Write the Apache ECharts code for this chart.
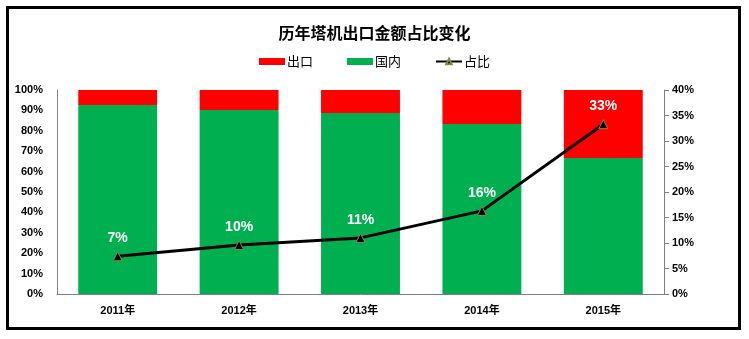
<!DOCTYPE html>
<html><head><meta charset="utf-8">
<script src="https://cdn.jsdelivr.net/npm/echarts@6/dist/echarts.min.js"></script>
<style>html,body{margin:0;padding:0;background:#fff}#c{width:749px;height:339px}</style>
</head><body><div id="c"></div>
<script>
const categories = ['2011年','2012年','2013年','2014年','2015年'];
const exportShare = [7.4, 9.8, 11.3, 16.7, 33.3];
const domestic = [92.6, 90.2, 88.7, 83.3, 66.7];
const ratio = [7.4, 9.6, 11.0, 16.3, 33.3];
const ratioLabels = ['7%','10%','11%','16%','33%'];
const font = '"Liberation Sans", "Noto Sans CJK SC", sans-serif';
const chart = echarts.init(document.getElementById('c'));
chart.setOption({
  animation: false,
  title: { text: '历年塔机出口金额占比变化', left: 'center', top: 20,
    textStyle: { fontFamily: '"Noto Sans CJK SC", sans-serif', fontSize: 16, fontWeight: 'bold', color: '#000' } },
  legend: { top: 50, left: 'center', itemGap: 34, itemWidth: 26, itemHeight: 7,
    textStyle: { fontFamily: '"Noto Sans CJK SC", sans-serif', fontSize: 13, color: '#000', padding: [0,0,0,-3] },
    data: [{name:'出口', icon:'rect'}, {name:'国内', icon:'rect'}, {name:'占比'}] },
  grid: { left: 57, right: 85, top: 90, bottom: 45 },
  graphic: [{ type: 'rect', shape: { x: 7.5, y: 7.5, width: 732, height: 321 },
    style: { fill: 'none', stroke: '#000', lineWidth: 3 }, silent: true }],
  xAxis: { type: 'category', data: categories,
    axisLine: { lineStyle: { color: '#808080' } }, axisTick: { show: false },
    axisLabel: { fontFamily: font, fontWeight: 'bold', fontSize: 11, color: '#000', margin: 11 } },
  yAxis: [
    { type: 'value', min: 0, max: 100, interval: 10, splitLine: { show: false },
      axisLine: { show: true, lineStyle: { color: '#808080' } }, axisTick: { show: false },
      axisLabel: { formatter: '{value}%', fontFamily: font, fontWeight: 'bold', fontSize: 11, color: '#000', margin: 14 } },
    { type: 'value', min: 0, max: 40, interval: 5, splitLine: { show: false },
      axisLine: { show: true, lineStyle: { color: '#808080' } }, axisTick: { show: true, length: 5, lineStyle: { color: '#808080' } },
      axisLabel: { formatter: '{value}%', fontFamily: font, fontWeight: 'bold', fontSize: 11, color: '#000', margin: 8 } }
  ],
  series: [
    { name: '国内', type: 'bar', stack: 's', data: domestic, barWidth: '65%', itemStyle: { color: '#00B050' } },
    { name: '出口', type: 'bar', stack: 's', data: exportShare, barWidth: '65%', itemStyle: { color: '#FF0000' } },
    { name: '占比', type: 'line', yAxisIndex: 1, data: ratio, symbol: 'triangle', symbolSize: 9,
      lineStyle: { color: '#000', width: 3 }, itemStyle: { color: '#000', borderColor: '#8a8a3a', borderWidth: 1 },
      label: { show: true, position: 'top', distance: 6, formatter: p => ratioLabels[p.dataIndex],
        color: '#fff', fontFamily: font, fontWeight: 'bold', fontSize: 14 } }
  ]
});
</script></body></html>
